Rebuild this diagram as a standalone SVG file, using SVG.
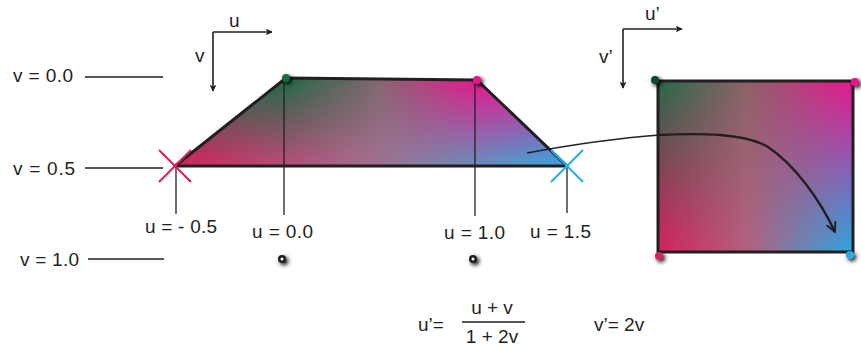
<svg xmlns="http://www.w3.org/2000/svg" width="861" height="347" viewBox="0 0 861 347">
<style>
text{font-family:"Liberation Sans",Arial,sans-serif;font-size:19px;fill:#231f20}
.ln{stroke:#231f20;stroke-width:1.3;fill:none}
.ax{stroke:#231f20;stroke-width:1.6;fill:none}
.edge{stroke:#231f20;stroke-width:3;fill:none;stroke-linejoin:round}
</style>
<defs>
<marker id="ah" viewBox="0 0 10 10" refX="9" refY="5" markerWidth="7" markerHeight="7" markerUnits="userSpaceOnUse" orient="auto">
<path d="M0,0 L10,5 L0,10 L2.5,5 z" fill="#231f20"/>
</marker>
<marker id="chev" viewBox="0 0 10 10" refX="9" refY="5" markerWidth="12" markerHeight="12" markerUnits="userSpaceOnUse" orient="auto">
<path d="M1,1 L9,5 L1,9" fill="none" stroke="#231f20" stroke-width="1.6"/>
</marker>
<filter id="sh" x="-100%" y="-100%" width="300%" height="300%">
<feGaussianBlur in="SourceAlpha" stdDeviation="2.2"/>
<feOffset dx="2" dy="2" result="b"/>
<feComponentTransfer><feFuncA type="linear" slope="1"/></feComponentTransfer>
<feMerge><feMergeNode/><feMergeNode in="SourceGraphic"/></feMerge>
</filter>
<linearGradient id="tTop" gradientUnits="userSpaceOnUse" x1="286" y1="0" x2="477" y2="0">
<stop offset="0" stop-color="#1f6a45"/><stop offset="0.5" stop-color="#856670"/><stop offset="1" stop-color="#ea148b"/>
</linearGradient>
<linearGradient id="tBot" gradientUnits="userSpaceOnUse" x1="175" y1="0" x2="567" y2="0">
<stop offset="0" stop-color="#d91f5e"/><stop offset="0.5" stop-color="#a4708e"/><stop offset="1" stop-color="#32a8e2"/>
</linearGradient>
<linearGradient id="tMaskG" gradientUnits="userSpaceOnUse" x1="0" y1="78" x2="0" y2="166">
<stop offset="0" stop-color="#fff"/><stop offset="1" stop-color="#000"/>
</linearGradient>
<mask id="tMask"><rect x="150" y="60" width="450" height="120" fill="url(#tMaskG)"/></mask>
<linearGradient id="sTop" gradientUnits="userSpaceOnUse" x1="658" y1="0" x2="853" y2="0">
<stop offset="0" stop-color="#256a48"/><stop offset="0.45" stop-color="#8a6468"/><stop offset="1" stop-color="#e8168c"/>
</linearGradient>
<linearGradient id="sBot" gradientUnits="userSpaceOnUse" x1="658" y1="0" x2="853" y2="0">
<stop offset="0" stop-color="#d82060"/><stop offset="0.45" stop-color="#b56080"/><stop offset="1" stop-color="#2aa8e0"/>
</linearGradient>
<linearGradient id="sMaskG" gradientUnits="userSpaceOnUse" x1="0" y1="81" x2="0" y2="252">
<stop offset="0" stop-color="#fff"/><stop offset="1" stop-color="#000"/>
</linearGradient>
<mask id="sMask"><rect x="640" y="70" width="230" height="200" fill="url(#sMaskG)"/></mask>
</defs>

<g id="v-labels">
<text x="13" y="82" textLength="60">v = 0.0</text>
<line class="ln" x1="85" y1="77" x2="163" y2="77"/>
<text x="13" y="175" textLength="62">v = 0.5</text>
<line class="ln" x1="85" y1="168" x2="163" y2="168"/>
<text x="20" y="266" textLength="59">v = 1.0</text>
<line class="ln" x1="88" y1="259" x2="164" y2="259"/>
</g>

<g id="uv-axes">
<line class="ax" x1="213" y1="32" x2="213" y2="91" marker-end="url(#ah)"/>
<line class="ax" x1="213" y1="32" x2="272" y2="32" marker-end="url(#ah)"/>
<text x="229" y="27">u</text>
<text x="195" y="62">v</text>
</g>

<g id="trapezoid">
<polygon points="175,166 286,78 477,80 567,166" fill="url(#tBot)"/>
<polygon points="175,166 286,78 477,80 567,166" fill="url(#tTop)" mask="url(#tMask)"/>
<line x1="180" y1="161" x2="282" y2="82" stroke="#fff" stroke-width="0.6" opacity="0.8"/>
<polygon class="edge" points="175,166 286,78 477,80 567,166"/>
</g>

<g id="u-lines">
<line class="ln" x1="176" y1="166" x2="176" y2="214"/>
<line class="ln" x1="284" y1="80" x2="284" y2="215"/>
<line class="ln" x1="475" y1="82" x2="475" y2="216"/>
<line class="ln" x1="567" y1="166" x2="567" y2="213"/>
</g>

<g id="markers">
<g stroke="#d8205e" stroke-width="2" fill="none">
<line x1="159" y1="150" x2="191" y2="182"/><line x1="191" y1="150" x2="159" y2="182"/>
</g>
<g stroke="#1fb0ea" stroke-width="2" fill="none">
<line x1="551" y1="150" x2="583" y2="182"/><line x1="583" y1="150" x2="551" y2="182"/>
</g>
<circle cx="286" cy="78" r="4" fill="#136b3a" filter="url(#sh)"/>
<circle cx="477" cy="80" r="4" fill="#e8168b" filter="url(#sh)"/>
</g>

<g id="u-labels">
<text x="145" y="233" textLength="72">u = - 0.5</text>
<text x="252" y="238" textLength="61">u = 0.0</text>
<text x="444" y="239" textLength="61">u = 1.0</text>
<text x="530" y="238" textLength="61">u = 1.5</text>
</g>

<g id="dots">
<g filter="url(#sh)"><circle cx="282" cy="259" r="4" fill="#231f20"/></g>
<circle cx="282" cy="259" r="1.5" fill="#fff"/>
<g filter="url(#sh)"><circle cx="473" cy="259" r="4" fill="#231f20"/></g>
<circle cx="473" cy="259" r="1.5" fill="#fff"/>
</g>

<g id="uv-prime-axes">
<line class="ax" x1="623" y1="29" x2="623" y2="88" marker-end="url(#ah)"/>
<line class="ax" x1="623" y1="29" x2="682" y2="29" marker-end="url(#ah)"/>
<text x="645" y="20">u’</text>
<text x="599" y="63">v’</text>
</g>

<g id="square">
<rect x="658" y="81" width="195" height="171" fill="url(#sBot)"/>
<rect x="658" y="81" width="195" height="171" fill="url(#sTop)" mask="url(#sMask)"/>
<rect class="edge" x="658" y="81" width="195" height="171"/>
<circle cx="655" cy="80" r="4" fill="#0f4a2a" filter="url(#sh)"/>
<circle cx="855" cy="82" r="4" fill="#e8168b" filter="url(#sh)"/>
<circle cx="659" cy="256" r="4" fill="#d8205e" filter="url(#sh)"/>
<circle cx="850" cy="255" r="4" fill="#2aa8e0" filter="url(#sh)"/>
</g>

<g id="connectors">
<path class="ln" d="M527,153 C570,145 620,138 660,135"/>
<path d="M659,135 C700,133 745,133 768,147 C795,165 820,200 835,232" fill="none" stroke="#231f20" stroke-width="2.4" marker-end="url(#chev)"/>
</g>

<g id="formula">
<text x="418" y="331">u’=</text>
<text x="492" y="314" text-anchor="middle">u + v</text>
<line x1="462" y1="322" x2="525" y2="322" stroke="#231f20" stroke-width="1.3"/>
<text x="492" y="343" text-anchor="middle">1 + 2v</text>
<text x="594" y="331">v’= 2v</text>
</g>
</svg>
